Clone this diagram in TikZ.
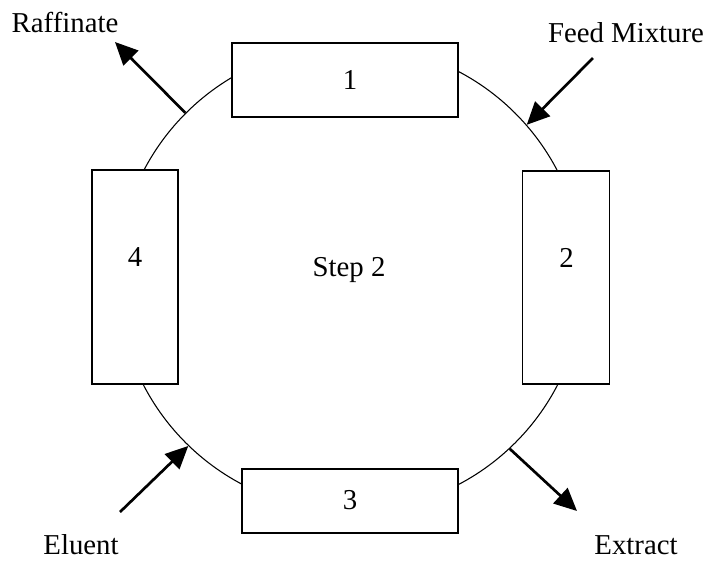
\documentclass[tikz,border=0pt]{standalone}
\usepackage{fontspec}
\setmainfont{Liberation Serif}
\usetikzlibrary{arrows.meta}
\begin{document}
\begin{tikzpicture}[x=0.375pt,y=-0.375pt,
  font=\fontsize{10.8}{12}\selectfont,
  box/.style={draw,line width=0.55pt,fill=white,inner sep=0pt},
  ringstyle/.style={draw,circle,line width=0.4pt,inner sep=0pt,minimum size=466*0.375pt},
  flow/.style={line width=1pt,-{Triangle[length=8.5pt,width=7.8pt]}},
  lbl/.style={inner sep=0pt}]
\useasboundingbox (0,0) rectangle (713,563);
\node[ringstyle] (ring) at (350.5,278) {};
\node[box,minimum width=226*0.375pt,minimum height=74*0.375pt] (b1) at (345,80) {};
\node[box,minimum width=87*0.375pt,minimum height=213*0.375pt] (b2) at (566,277.5) {};
\node[box,minimum width=216*0.375pt,minimum height=64*0.375pt] (b3) at (350,501) {};
\node[box,minimum width=86*0.375pt,minimum height=214*0.375pt] (b4) at (135,277) {};
\node[lbl] (n1) at (350,80) {1};
\node[lbl] (n2) at (566.5,258) {2};
\node[lbl] (n3) at (350,500) {3};
\node[lbl] (n4) at (135,257) {4};
\node[lbl] (step) at (349,270) {Step 2};
\node[lbl] (raf) at (65,22) {Raffinate};
\node[lbl] (feed) at (626,33) {Feed Mixture};
\node[lbl] (elu) at (81,545) {Eluent};
\node[lbl] (ext) at (636,545) {Extract};
\coordinate (rafend) at (115,42);
\coordinate (feedstart) at (593,58);
\coordinate (elustart) at (120,512);
\coordinate (extend) at (577,511);
\draw[flow] (ring.135) -- (rafend);
\draw[flow] (feedstart) -- (ring.41);
\draw[flow] (elustart) -- (ring.226);
\draw[flow] (ring.313.5) -- (extend);
\end{tikzpicture}
\end{document}
